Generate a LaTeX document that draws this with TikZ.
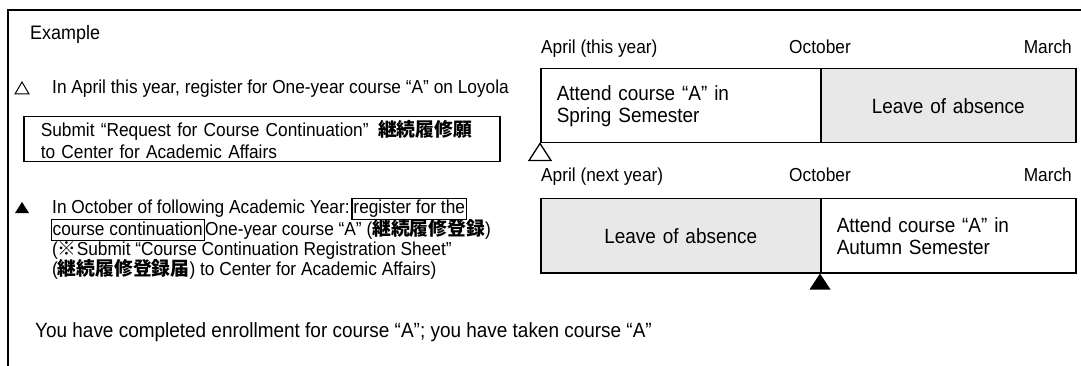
\documentclass[tikz,border=0pt]{standalone}
\usepackage{fontspec}
\setmainfont{Liberation Sans}[FakeStretch=0.92]
\newfontfamily\cjk{Noto Sans CJK JP}
\definecolor{absence}{HTML}{E8E8E8}
\begin{document}
\begin{tikzpicture}[x=1pt,y=-1pt,
  every node/.style={inner sep=0pt},
  fs/.style={font=\fontsize{18.8}{21}\selectfont},
  fb/.style={font=\fontsize{20.6}{22}\selectfont},
  txt/.style={fs, anchor=base west},
  btxt/.style={fb, anchor=base west},
  framel/.style={line width=1.2pt},
  word/.style={txt, draw, line width=1.4pt, inner xsep=1.5pt, inner ysep=0pt, text height=15.5pt, text depth=5.5pt},
  cell/.style={draw, line width=1.5pt, minimum height=74pt, anchor=north west, fb},
  attend/.style={cell, fill=white, align=left, inner xsep=16pt},
  leave/.style={cell, fill=absence, align=center},
  lbl/.style={fs},
  bulletline/.style={line width=1pt},
]
\useasboundingbox (0,0) rectangle (1081,366);
% frame
\draw[framel] (8,366) -- (8,10) -- (1081,10);

% left column
\node[anchor=base west, font=\fontsize{19.5}{21}\selectfont] (ex) at (30,40) {Example};

\coordinate (m1) at (22,82);
\draw[bulletline] (m1) -- ++(-7,12) -- ++(14,0) -- cycle;
\node[txt] (l0) at (52,94) {In April this year, register for One-year course “A” on Loyola};

\node[fs, draw, line width=1.5pt, anchor=north west, minimum width=476pt, minimum height=45pt,
      align=left, text width=442pt, inner xsep=17pt, font=\fontsize{18.8}{22}\selectfont] (submit) at (23,116)
  {Submit “Request for Course Continuation”\hspace{0.5em}{\cjk\bfseries 継続履修願}\\to Center for Academic Affairs};

\coordinate (m2) at (22,202);
\fill (m2) -- ++(-7,11) -- ++(14,0) -- cycle;
\node[txt] (p1) at (52,214) {In October of following Academic Year:};
\node[word, xshift=1.5pt] (w1) at (p1.base east) {register for the};
\node[word] (w2) at (50.5,235) {course continuation\ };
\node[txt] (p2) at (w2.base east) {One-year course “A” ({\cjk\bfseries 継続履修登録})};
\node[txt] (p3) at (52,255) {({\cjk ※}Submit “Course Continuation Registration Sheet”};
\node[txt] (p4) at (52,275) {({\cjk\bfseries 継続履修登録届}) to Center for Academic Affairs)};

\node[btxt] (done) at (35,337) {You have completed enrollment for course “A”; you have taken course “A”};

% timeline this year
\node[lbl, anchor=base west] (apr1) at (541,54) {April (this year)};
\node[lbl, anchor=base] (oct1) at (820,54) {October};
\node[lbl, anchor=base east] (mar1) at (1072,54) {March};
\node[attend, text width=248pt] (a1) at (540,68) {Attend course “A” in\\Spring Semester};
\node[leave, text width=255pt] (a2) at (820,68) {Leave of absence};
\draw[line width=1.3pt, fill=white] (a1.south west) -- ++(-11,17) -- ++(22,0) -- cycle;

% timeline next year
\node[lbl, anchor=base west] (apr2) at (541,182) {April (next year)};
\node[lbl, anchor=base] (oct2) at (820,182) {October};
\node[lbl, anchor=base east] (mar2) at (1072,182) {March};
\node[leave, text width=280pt] (b1) at (540,198) {Leave of absence};
\node[attend, text width=223pt] (b2) at (820,198) {Attend course “A” in\\Autumn Semester};
\fill (b2.south west) -- ++(-10.5,16) -- ++(21,0) -- cycle;
\end{tikzpicture}
\end{document}
